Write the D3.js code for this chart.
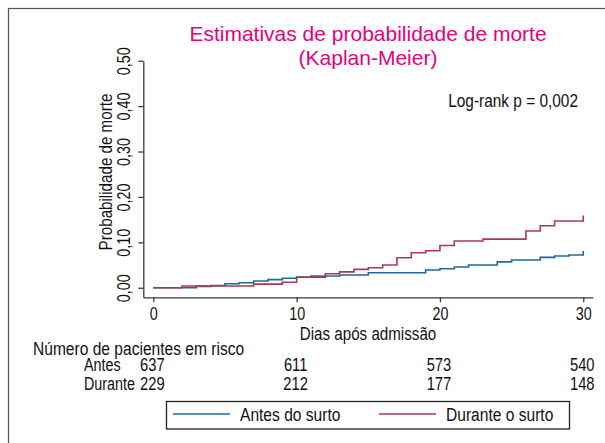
<!DOCTYPE html>
<html>
<head>
<meta charset="utf-8">
<script src="https://cdn.jsdelivr.net/npm/d3@7"></script>
<style>
  body { margin: 0; background: #fff; }
  svg text { font-family: "Liberation Sans", Arial, sans-serif; fill: #111; }
</style>
</head>
<body>
<svg id="chart" width="605" height="443"></svg>
<script>
// Kaplan-Meier steps (day, cumulative probability of death)
const antesDias = [0, 3, 4, 5, 6, 7, 8, 9, 10, 12, 13, 15, 19, 20, 21, 22, 24, 25, 27, 28, 29, 30];
const antesProb = [0, 0.003, 0.005, 0.009, 0.011, 0.015, 0.018, 0.021, 0.0235, 0.026, 0.028, 0.033, 0.039, 0.042, 0.0456, 0.05, 0.057, 0.061, 0.067, 0.0698, 0.072, 0.081];

const duranteDias = [0, 2, 7, 9, 10, 11, 12, 13, 14, 15, 16, 17, 18, 19, 20, 21, 23, 26, 27, 28, 30];
const duranteProb = [0, 0.004, 0.008, 0.012, 0.023, 0.026, 0.031, 0.035, 0.0405, 0.044, 0.05, 0.066, 0.077, 0.0815, 0.093, 0.103, 0.107, 0.125, 0.1366, 0.147, 0.159];

// number at risk table
const riscoTempos = [0, 10, 20, 30];
const riscoAntes = [637, 611, 573, 540];
const riscoDurante = [229, 212, 177, 148];

const xTicks = [0, 10, 20, 30];
const yTicks = [0, 0.1, 0.2, 0.3, 0.4, 0.5];

const legendLabels = ["Antes do surto", "Durante o surto"];
const colors = ["#23689a", "#a63a52"];

const svg = d3.select("#chart");
const ptBR = d3.formatLocale({ decimal: ",", thousands: ".", grouping: [3], currency: ["R$", ""] });
const fmt = ptBR.format(".2f");

// no narrow font installed: squeeze Liberation Sans like Arial Narrow
const NARROW = 0.82;
function label(parent, x, y, str, size, anchor = "start", rot = 0) {
  return parent.append("text")
    .attr("transform", `translate(${x},${y}) rotate(${rot}) scale(${NARROW},1)`)
    .attr("text-anchor", anchor)
    .style("font-size", size + "px")
    .text(str);
}

// outer frame (only left and top edges are visible)
svg.append("rect")
  .attr("x", 8.5).attr("y", 8.5)
  .attr("width", 620).attr("height", 460)
  .attr("fill", "none").attr("stroke", "#555").attr("stroke-width", 1.2);

const x = d3.scaleLinear().domain([-0.7, 30.68]).range([143.3, 593]);
const y = d3.scaleLinear().domain([-0.021, 0.5]).range([297.3, 60.7]);

// title
["Estimativas de probabilidade de morte", "(Kaplan-Meier)"].forEach((t, i) => {
  svg.append("text").attr("x", 368).attr("y", 41 + i * 24).attr("text-anchor", "middle")
    .style("font-size", "21px").style("fill", "#e6007e")
    .text(t);
});

// axes
const xAxis = svg.append("g").attr("transform", `translate(0,${y.range()[0]})`)
  .call(d3.axisBottom(x).tickValues(xTicks).tickSize(5).tickPadding(5.5).tickSizeOuter(0));
const yAxis = svg.append("g").attr("transform", `translate(${x.range()[0]},0)`)
  .call(d3.axisLeft(y).tickValues(yTicks).tickSize(5).tickFormat(fmt).tickSizeOuter(0));

[xAxis, yAxis].forEach(g => {
  g.selectAll("path, line").attr("stroke", "#3a3a3a").attr("stroke-width", 1.3);
  g.selectAll("text").style("font-size", "17.5px").attr("fill", "#111");
});
xAxis.selectAll(".tick text").attr("transform", `scale(${NARROW},1)`);
yAxis.selectAll(".tick text")
  .attr("transform", `rotate(-90) scale(${NARROW},1)`)
  .attr("x", 0).attr("y", -13).attr("dy", 0)
  .attr("text-anchor", "middle");

// axis titles
label(svg, 112, 172, "Probabilidade de morte", 18.5, "middle", -90);
label(svg, 368, 340, "Dias após admissão", 18.5, "middle");

// curves
const line = d3.line().x(d => x(d[0])).y(d => y(d[1])).curve(d3.curveStepAfter);
const series = [
  d3.zip(antesDias, antesProb),
  d3.zip(duranteDias, duranteProb)
];
series.forEach((s, i) => {
  svg.append("path").datum(s)
    .attr("d", line)
    .attr("fill", "none")
    .attr("stroke", colors[i])
    .attr("stroke-width", 1.6);
});

// log-rank note
label(svg, 578, 107, "Log-rank p = 0,002", 18.8, "end");

// risk table
label(svg, 33, 355, "Número de pacientes em risco", 19);
const rows = [["Antes", riscoAntes, 371], ["Durante", riscoDurante, 390]];
rows.forEach(([name, vals, yy]) => {
  label(svg, 84, yy, name, 17.5);
  vals.forEach((v, i) => label(svg, x(riscoTempos[i]) - 1, yy, v, 18, "middle"));
});

// legend
const leg = svg.append("g");
leg.append("rect").attr("x", 166.5).attr("y", 401.5).attr("width", 403).attr("height", 27.5)
  .attr("fill", "#fff").attr("stroke", "#222").attr("stroke-width", 1.3);
const legX = [173, 379];
legendLabels.forEach((lab, i) => {
  leg.append("line").attr("x1", legX[i]).attr("x2", legX[i] + 57)
    .attr("y1", 414).attr("y2", 414)
    .attr("stroke", colors[i]).attr("stroke-width", 1.6);
  label(leg, legX[i] + 67, 421, lab, 19);
});
</script>
</body>
</html>
